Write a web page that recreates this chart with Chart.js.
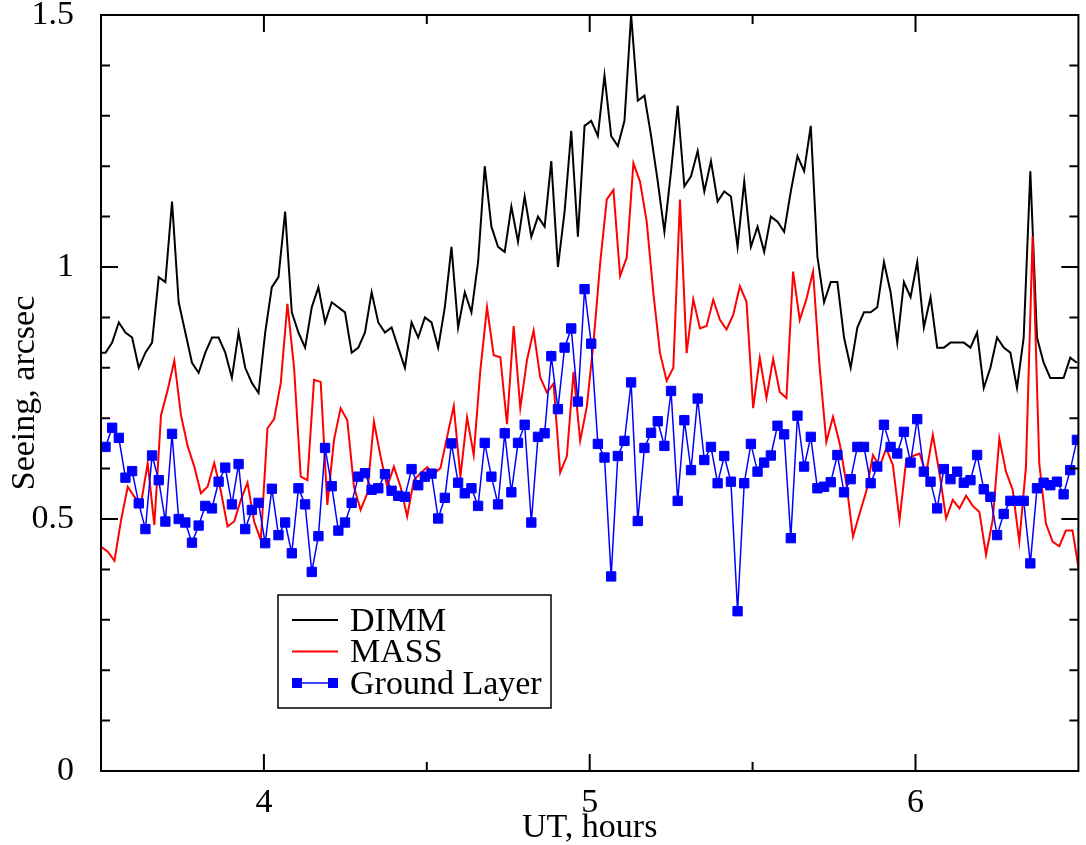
<!DOCTYPE html>
<html>
<head>
<meta charset="utf-8">
<title>Seeing: DIMM, MASS and ground layer</title>
<script src="https://cdn.jsdelivr.net/npm/chart.js@4.4.1/dist/chart.umd.min.js"></script>
<style>
  html, body { margin: 0; padding: 0; background: #fff; }
  #wrap { width: 1086px; height: 845px; }
</style>
</head>
<body>
<div id="wrap"><canvas id="seeing" width="1086" height="845"></canvas></div>
<script>
// Sampling of the night: first ground-layer sample and cadence (UT hours)
const UT_FIRST = 3.5138;
const UT_STEP = 0.020422;
// MASS samples are stamped slightly later than DIMM ones
const MASS_SHIFT = 0.007;

// DIMM seeing, arcsec (starts one sample before the ground layer series)
const dimmSeeing = [
  0.83,
  0.83, 0.85, 0.89, 0.87, 0.86, 0.80, 0.83, 0.85, 0.98, 0.97,
  1.13, 0.93, 0.87, 0.81, 0.79, 0.83, 0.86, 0.86, 0.83, 0.78,
  0.87, 0.80, 0.77, 0.75, 0.87, 0.96, 0.98, 1.11, 0.91, 0.87,
  0.84, 0.92, 0.96, 0.89, 0.93, 0.92, 0.91, 0.83, 0.84, 0.87,
  0.95, 0.89, 0.87, 0.88, 0.84, 0.80, 0.89, 0.86, 0.90, 0.89,
  0.84, 0.92, 1.04, 0.88, 0.95, 0.91, 1.01, 1.20, 1.08, 1.04,
  1.03, 1.12, 1.05, 1.14, 1.06, 1.10, 1.08, 1.21, 1.00, 1.11,
  1.27, 1.06, 1.28, 1.29, 1.26, 1.38, 1.26, 1.24, 1.29, 1.50,
  1.33, 1.34, 1.26, 1.17, 1.07, 1.19, 1.32, 1.16, 1.18, 1.23,
  1.15, 1.21, 1.13, 1.15, 1.14, 1.04, 1.17, 1.04, 1.08, 1.03,
  1.10, 1.09, 1.07, 1.15, 1.22, 1.19, 1.28, 1.02, 0.93, 0.97,
  0.97, 0.86, 0.80, 0.88, 0.91, 0.91, 0.92, 1.01, 0.95, 0.85,
  0.97, 0.94, 1.01, 0.88, 0.94, 0.84, 0.84, 0.85, 0.85, 0.85,
  0.84, 0.87, 0.76, 0.80, 0.86, 0.84, 0.83, 0.76, 0.86, 1.19,
  0.86, 0.81, 0.78, 0.78, 0.78, 0.82, 0.81
];

// MASS (free atmosphere) seeing, arcsec
const massSeeing = [
  0.445,
  0.435, 0.417, 0.498, 0.564, 0.544, 0.531, 0.611, 0.488, 0.706, 0.756,
  0.814, 0.706, 0.645, 0.604, 0.551, 0.564, 0.611, 0.555, 0.485, 0.495,
  0.538, 0.572, 0.495, 0.458, 0.680, 0.698, 0.770, 0.927, 0.800, 0.584,
  0.577, 0.776, 0.772, 0.528, 0.657, 0.720, 0.696, 0.564, 0.518, 0.551,
  0.693, 0.624, 0.564, 0.604, 0.564, 0.505, 0.577, 0.591, 0.603, 0.590,
  0.601, 0.663, 0.724, 0.584, 0.702, 0.627, 0.796, 0.920, 0.825, 0.821,
  0.688, 0.883, 0.720, 0.815, 0.874, 0.781, 0.751, 0.769, 0.592, 0.625,
  0.792, 0.655, 0.723, 0.850, 1.007, 1.134, 1.153, 0.982, 1.019, 1.206,
  1.169, 1.090, 0.948, 0.829, 0.774, 0.800, 1.134, 0.829, 0.936, 0.878,
  0.883, 0.935, 0.895, 0.876, 0.905, 0.962, 0.931, 0.720, 0.820, 0.740,
  0.818, 0.752, 0.740, 0.991, 0.895, 0.936, 0.991, 0.800, 0.653, 0.703,
  0.650, 0.571, 0.465, 0.511, 0.555, 0.627, 0.604, 0.640, 0.607, 0.498,
  0.617, 0.625, 0.630, 0.590, 0.667, 0.591, 0.501, 0.538, 0.521, 0.546,
  0.526, 0.514, 0.429, 0.498, 0.660, 0.594, 0.558, 0.455, 0.604, 1.061,
  0.611, 0.491, 0.455, 0.446, 0.477, 0.477, 0.395
];

// Ground layer seeing, arcsec
const groundLayer = [
  0.643, 0.681, 0.661, 0.582, 0.595, 0.531, 0.480, 0.626, 0.577, 0.495,
  0.669, 0.500, 0.493, 0.453, 0.487, 0.526, 0.521, 0.574, 0.602, 0.529,
  0.609, 0.480, 0.518, 0.532, 0.452, 0.560, 0.468, 0.493, 0.432, 0.561,
  0.529, 0.395, 0.466, 0.641, 0.565, 0.477, 0.493, 0.532, 0.584, 0.591,
  0.558, 0.561, 0.589, 0.556, 0.546, 0.544, 0.599, 0.567, 0.584, 0.590,
  0.501, 0.542, 0.650, 0.572, 0.551, 0.561, 0.526, 0.651, 0.584, 0.529,
  0.670, 0.553, 0.651, 0.687, 0.493, 0.663, 0.670, 0.823, 0.718, 0.840,
  0.878, 0.733, 0.956, 0.848, 0.649, 0.622, 0.386, 0.625, 0.655, 0.771,
  0.496, 0.641, 0.671, 0.694, 0.645, 0.754, 0.536, 0.696, 0.597, 0.739,
  0.617, 0.643, 0.571, 0.625, 0.574, 0.317, 0.571, 0.649, 0.594, 0.612,
  0.626, 0.685, 0.668, 0.462, 0.705, 0.604, 0.663, 0.561, 0.564, 0.573,
  0.627, 0.553, 0.579, 0.643, 0.643, 0.571, 0.604, 0.687, 0.643, 0.630,
  0.673, 0.612, 0.698, 0.594, 0.574, 0.521, 0.599, 0.579, 0.594, 0.572,
  0.577, 0.627, 0.559, 0.544, 0.468, 0.510, 0.536, 0.536, 0.536, 0.412,
  0.561, 0.572, 0.567, 0.574, 0.549, 0.597, 0.657
];

// Axis ticks
const xMajor = [4, 5, 6];
const xMinor = [4.5, 5.5];
const yMajor = [0.5, 1.0];
const yMinor = [0.1, 0.2, 0.3, 0.4, 0.6, 0.7, 0.8, 0.9, 1.1, 1.2, 1.3, 1.4];

const FONT = { family: "'Liberation Serif', 'DejaVu Serif', serif", size: 34 };
const TITLE_FONT = { family: FONT.family, size: 34, lineHeight: 1 };

// pair a value list with its sample times
function toPoints(values, firstIndex, shift) {
  return values.map((v, k) => ({ x: UT_FIRST + (firstIndex + k) * UT_STEP + shift, y: v }));
}

// inward ticks on all four sides plus the frame
const frameTicks = {
  id: 'frameTicks',
  afterDatasetsDraw(chart) {
    const { ctx, chartArea: a, scales: { x, y } } = chart;
    ctx.save();
    ctx.strokeStyle = '#000';
    ctx.lineWidth = 2;
    ctx.beginPath();
    const vTick = (v, len) => {
      const px = x.getPixelForValue(v);
      ctx.moveTo(px, a.bottom); ctx.lineTo(px, a.bottom - len);
      ctx.moveTo(px, a.top); ctx.lineTo(px, a.top + len);
    };
    const hTick = (v, len) => {
      const py = y.getPixelForValue(v);
      ctx.moveTo(a.left, py); ctx.lineTo(a.left + len, py);
      ctx.moveTo(a.right, py); ctx.lineTo(a.right - len, py);
    };
    xMajor.forEach(v => vTick(v, 17));
    xMinor.forEach(v => vTick(v, 9));
    yMajor.forEach(v => hTick(v, 17));
    yMinor.forEach(v => hTick(v, 9));
    ctx.stroke();
    ctx.strokeRect(a.left, a.top, a.right - a.left, a.bottom - a.top);
    ctx.restore();
  },
  afterDraw(chart) {
    // legend box inside the plot
    const { ctx } = chart;
    const box = { left: 278, top: 595, width: 273, height: 113 };
    ctx.save();
    ctx.fillStyle = '#fff';
    ctx.fillRect(box.left, box.top, box.width, box.height);
    ctx.strokeStyle = '#000';
    ctx.lineWidth = 1.5;
    ctx.strokeRect(box.left, box.top, box.width, box.height);
    ctx.font = `${FONT.size}px ${FONT.family}`;
    ctx.textBaseline = 'middle';
    const rows = [0, 1, 2].map(i => chart.data.datasets[i]);
    rows.forEach((ds, i) => {
      const yy = box.top + 25 + i * 31.5;
      ctx.strokeStyle = ds.borderColor;
      ctx.lineWidth = ds.borderWidth;
      ctx.beginPath();
      ctx.moveTo(box.left + 14, yy);
      ctx.lineTo(box.left + 60, yy);
      ctx.stroke();
      if (ds.pointRadius > 0) {
        ctx.fillStyle = ds.pointBackgroundColor;
        [box.left + 19, box.left + 55].forEach(px => ctx.fillRect(px - 5, yy - 5, 10, 10));
      }
      ctx.fillStyle = '#000';
      ctx.fillText(ds.label, box.left + 72, yy + 2);
    });
    ctx.restore();
  }
};

new Chart(document.getElementById('seeing'), {
  type: 'line',
  data: {
    datasets: [
      {
        label: 'DIMM',
        data: toPoints(dimmSeeing, -1, 0),
        borderColor: '#000000',
        borderWidth: 2,
        pointRadius: 0,
        order: 2
      },
      {
        label: 'MASS',
        data: toPoints(massSeeing, -1, MASS_SHIFT),
        borderColor: '#ff0000',
        borderWidth: 2,
        pointRadius: 0,
        order: 1
      },
      {
        label: 'Ground Layer',
        data: toPoints(groundLayer, 0, 0),
        borderColor: '#0000ff',
        borderWidth: 1.5,
        pointStyle: 'rect',
        pointRadius: 6.6,
        pointBackgroundColor: '#0000ff',
        pointBorderColor: '#0000ff',
        pointBorderWidth: 1,
        order: 0
      }
    ]
  },
  options: {
    responsive: false,
    animation: false,
    events: [],
    layout: { padding: { left: 0, top: 15, right: 4, bottom: 0 } },
    elements: { line: { tension: 0 } },
    plugins: { legend: { display: false }, tooltip: { enabled: false } },
    scales: {
      x: {
        type: 'linear',
        min: 3.5,
        max: 6.5,
        grid: { display: false },
        border: { display: false },
        afterBuildTicks: s => { s.ticks = xMajor.map(v => ({ value: v })); },
        afterFit: s => { s.height = 74; s.paddingLeft = 0; s.paddingRight = 0; },
        ticks: { font: FONT, color: '#000', padding: 4, maxRotation: 0 },
        title: { display: true, text: 'UT, hours', font: TITLE_FONT, color: '#000', padding: { top: 0, bottom: 0 } }
      },
      y: {
        min: 0,
        max: 1.5,
        grid: { display: false },
        border: { display: false },
        afterFit: s => { s.width = 101; s.paddingTop = 0; s.paddingBottom = 0; },
        ticks: { stepSize: 0.5, font: FONT, color: '#000', padding: 19, callback: v => String(v) },
        title: { display: true, text: 'Seeing, arcsec', font: TITLE_FONT, color: '#000', padding: { top: 8, bottom: 0 } }
      }
    }
  },
  plugins: [frameTicks]
});
</script>
</body>
</html>
